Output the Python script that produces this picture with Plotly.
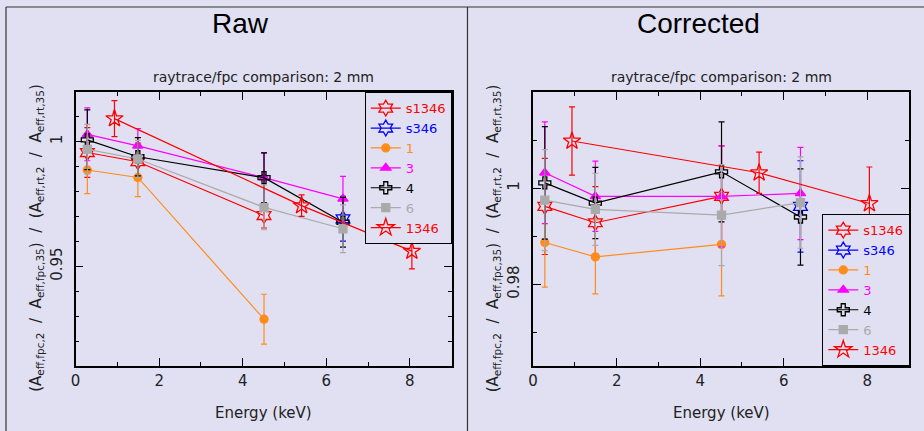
import plotly.graph_objects as go

# ---------------- data ----------------
series_names = ["s1346", "s346", "1", "3", "4", "6", "1346"]
series_colors = ["#ff0000", "#0000ff", "#ff8c1a", "#ff00ff", "#000000", "#aaaaaa", "#ff0000"]
series_symbols = ["hexagram-open", "hexagram-open", "circle", "triangle-up", "cross-open", "square", "star-open"]

E_std = [0.28, 1.49, 4.51, 6.4]
E_s1346 = [0.28, 1.49, 4.51]
E_s346 = [6.4]
E_1 = [0.28, 1.49, 4.51]
E_1346 = [0.93, 5.41, 8.05]

# Raw panel
raw_s1346 = [0.9957, 0.9920, 0.9704]
raw_s1346_err = [0.0100, 0.0075, 0.0050]
raw_s346 = [0.9691]
raw_s346_err = [0.0090]
raw_1 = [0.9887, 0.9857, 0.9288]
raw_1_err = [0.0095, 0.0077, 0.0100]
raw_3 = [1.0030, 0.9984, 0.9856, 0.9771]
raw_3_err = [0.0106, 0.0069, 0.0100, 0.0090]
raw_4 = [1.0008, 0.9940, 0.9856, 0.9677]
raw_4_err = [0.0120, 0.0077, 0.0100, 0.0100]
raw_6 = [0.9970, 0.9931, 0.9737, 0.9651]
raw_6_err = [0.0100, 0.0075, 0.0090, 0.0096]
raw_1346 = [1.0093, 0.9744, 0.9561]
raw_1346_err = [0.0072, 0.0043, 0.0071]

# Corrected panel
cor_s1346 = [0.9962, 0.9928, 0.9983]
cor_s1346_err = [0.0100, 0.0075, 0.0105]
cor_s346 = [0.9962]
cor_s346_err = [0.0095]
cor_1 = [0.9887, 0.9857, 0.9883]
cor_1_err = [0.0093, 0.0077, 0.0107]
cor_3 = [1.0032, 0.9983, 0.9983, 0.9989]
cor_3_err = [0.0106, 0.0073, 0.0105, 0.0096]
cor_4 = [1.0011, 0.9969, 1.0034, 0.9940]
cor_4_err = [0.0117, 0.0074, 0.0104, 0.0100]
cor_6 = [0.9975, 0.9956, 0.9944, 0.9970]
cor_6_err = [0.0105, 0.0075, 0.0105, 0.0095]
cor_1346 = [1.0098, 1.0032, 0.9968]
cor_1346_err = [0.0071, 0.0043, 0.0076]

x_tickvals = [0, 2, 4, 6, 8]
x_ticktext = ["0", "2", "4", "6", "8"]
raw_tickvals = [0.95, 1.0]
raw_ticktext = ["0.95", "1"]
cor_tickvals = [0.98, 1.0]
cor_ticktext = ["0.98", "1"]

panel_titles = ["Raw", "Corrected"]
subtitle = "raytrace/fpc comparison: 2 mm"
x_title = "Energy (keV)"
y_title = ("(A<sub>eff,fpc,2</sub>  /  A<sub>eff,fpc,35</sub>)  /  "
           "(A<sub>eff,rt,2</sub>  /  A<sub>eff,rt,35</sub>)")

raw_sets = [(E_s1346, raw_s1346, raw_s1346_err), (E_s346, raw_s346, raw_s346_err),
            (E_1, raw_1, raw_1_err), (E_std, raw_3, raw_3_err), (E_std, raw_4, raw_4_err),
            (E_std, raw_6, raw_6_err), (E_1346, raw_1346, raw_1346_err)]
cor_sets = [(E_s1346, cor_s1346, cor_s1346_err), (E_s346, cor_s346, cor_s346_err),
            (E_1, cor_1, cor_1_err), (E_std, cor_3, cor_3_err), (E_std, cor_4, cor_4_err),
            (E_std, cor_6, cor_6_err), (E_1346, cor_1346, cor_1346_err)]

W, H = 924, 431
BG = "#e0e0f2"
FONT = "DejaVu Sans"

marker_sizes = {"hexagram-open": 12, "star-open": 13, "circle": 8, "triangle-up": 9,
                "cross-open": 10, "square": 8}

fig = go.Figure()

for panel, sets in enumerate([raw_sets, cor_sets]):
    xa = "x" if panel == 0 else "x2"
    ya = "y" if panel == 0 else "y2"
    leg = "legend" if panel == 0 else "legend2"
    for name, col, sym, (ex, vy, er) in zip(series_names, series_colors, series_symbols, sets):
        fig.add_trace(go.Scatter(
            x=ex, y=vy, xaxis=xa, yaxis=ya, legend=leg,
            mode="lines+markers",
            name=f"<span style='color:{col}'>{name}</span>",
            line=dict(color=col, width=1.2),
            marker=dict(symbol=sym, size=marker_sizes[sym], color=col,
                        line=dict(color=col, width=1.3)),
            error_y=dict(type="data", array=er, visible=True, color=col,
                         thickness=1.2, width=3),
        ))

def px_x(p):
    return p / W

def px_y(p):
    return 1 - p / H

axis_common = dict(showline=True, linecolor="black", linewidth=1.5, mirror="allticks",
                   ticks="inside", ticklen=8, tickcolor="black", tickwidth=1.2,
                   showgrid=False, zeroline=False,
                   tickfont=dict(family=FONT, size=15, color="#222222"))

fig.update_layout(
    width=W, height=H, margin=dict(l=0, r=0, t=0, b=0),
    paper_bgcolor=BG, plot_bgcolor=BG,
    font=dict(family=FONT, size=14, color="#222222"),
    xaxis=dict(domain=[px_x(71), px_x(449)], range=[0, 9], anchor="y",
               tickvals=x_tickvals, ticktext=x_ticktext,
               minor=dict(dtick=1, ticks="inside", ticklen=4, tickcolor="black"),
               **axis_common),
    yaxis=dict(domain=[px_y(366), px_y(92)], range=[0.91, 1.02], anchor="x",
               tickvals=raw_tickvals, ticktext=raw_ticktext, tickangle=-90,
               ticklabelstandoff=6,
               minor=dict(dtick=0.01, tick0=0, ticks="inside", ticklen=4, tickcolor="black"),
               **axis_common),
    xaxis2=dict(domain=[px_x(531), px_x(909)], range=[0, 9], anchor="y2",
                tickvals=x_tickvals, ticktext=x_ticktext,
                minor=dict(dtick=1, ticks="inside", ticklen=4, tickcolor="black"),
                **axis_common),
    yaxis2=dict(domain=[px_y(366), px_y(92)], range=[0.963, 1.02], anchor="x2",
                tickvals=cor_tickvals, ticktext=cor_ticktext, tickangle=-90,
                ticklabelstandoff=6,
                minor=dict(dtick=0.01, tick0=0, ticks="inside", ticklen=4, tickcolor="black"),
                **axis_common),
    legend=dict(x=px_x(450), xanchor="right", y=px_y(92), yanchor="top",
                bgcolor=BG, bordercolor="black", borderwidth=1.2,
                font=dict(family=FONT, size=13), tracegroupgap=0, itemwidth=30),
    legend2=dict(x=px_x(910), xanchor="right", y=px_y(366), yanchor="bottom",
                 bgcolor=BG, bordercolor="black", borderwidth=1.2,
                 font=dict(family=FONT, size=13), tracegroupgap=0, itemwidth=30),
    showlegend=True,
)

annotations = []
centers = [260, 720]
for i, c in enumerate(centers):
    annotations.append(dict(x=px_x(c - 23), y=px_y(23), xref="paper", yref="paper",
                            xanchor="center", yanchor="middle",
                            text=panel_titles[i], showarrow=False,
                            font=dict(family="Liberation Sans", size=28, color="black")))
    annotations.append(dict(x=px_x(c), y=px_y(77), xref="paper", yref="paper",
                            xanchor="center", yanchor="middle",
                            text=subtitle, showarrow=False,
                            font=dict(family=FONT, size=14, color="#222222")))
    annotations.append(dict(x=px_x(c), y=px_y(413), xref="paper", yref="paper",
                            xanchor="center", yanchor="middle",
                            text=x_title, showarrow=False,
                            font=dict(family=FONT, size=15, color="#222222")))
for xc in [32, 492]:
    annotations.append(dict(x=px_x(xc), y=px_y(238), xref="paper", yref="paper",
                            xanchor="center", yanchor="middle",
                            text=y_title, showarrow=False, textangle=-90,
                            font=dict(family=FONT, size=15, color="#222222")))
fig.update_layout(annotations=annotations)

shapes = [
    dict(type="line", xref="paper", yref="paper", x0=px_x(1), x1=px_x(1), y0=0, y1=px_y(7),
         line=dict(color="#333333", width=1.2)),
    dict(type="line", xref="paper", yref="paper", x0=px_x(465), x1=px_x(465), y0=0, y1=px_y(7),
         line=dict(color="#333333", width=1.2)),
    dict(type="line", xref="paper", yref="paper", x0=px_x(1), x1=1, y0=px_y(7), y1=px_y(7),
         line=dict(color="#333333", width=1.2)),
]
fig.update_layout(shapes=shapes)

fig.write_html("out.html", config={"displayModeBar": False},
               post_script="document.body.style.margin='0';")
